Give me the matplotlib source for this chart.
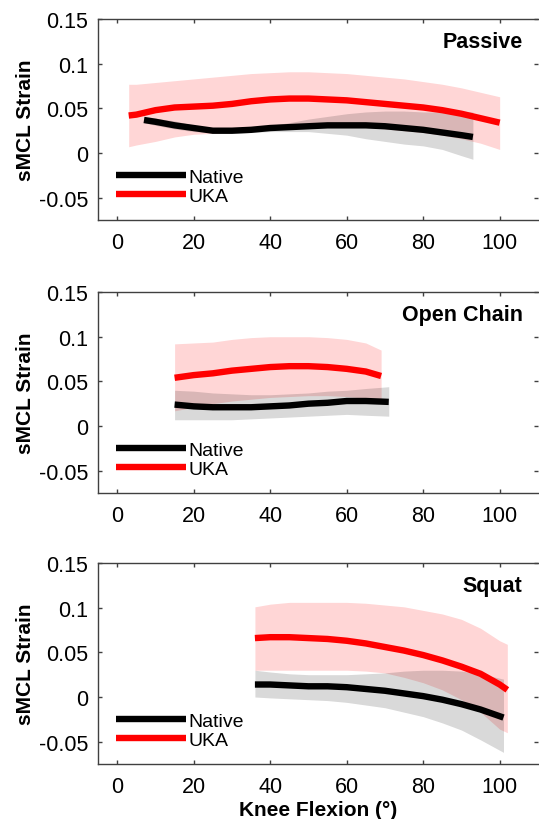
import matplotlib
matplotlib.use("Agg")
import matplotlib.pyplot as plt
import numpy as np

plt.rcParams['font.family'] = ['Liberation Sans', 'DejaVu Sans']
plt.rcParams['axes.unicode_minus'] = False

## DATA

# Passive
p_ux = [3, 5, 10, 15, 20, 25, 30, 35, 40, 45, 50, 55, 60, 65, 70, 75, 80, 85, 90, 95, 100]
p_u = [0.042, 0.043, 0.048, 0.051, 0.052, 0.053, 0.055, 0.058, 0.060, 0.061, 0.061,
       0.060, 0.059, 0.057, 0.055, 0.053, 0.051, 0.048, 0.044, 0.039, 0.034]
p_uhi = [0.077, 0.077, 0.079, 0.081, 0.083, 0.085, 0.087, 0.089, 0.090, 0.091, 0.091,
         0.090, 0.089, 0.087, 0.085, 0.083, 0.080, 0.077, 0.073, 0.068, 0.063]
p_ulo = [0.007, 0.009, 0.013, 0.018, 0.021, 0.022, 0.023, 0.025, 0.027, 0.029, 0.030,
         0.030, 0.030, 0.029, 0.027, 0.025, 0.023, 0.020, 0.016, 0.011, 0.004]
p_nx = [7, 10, 15, 20, 25, 30, 35, 40, 45, 50, 55, 60, 65, 70, 75, 80, 85, 90, 93]
p_n = [0.037, 0.035, 0.031, 0.028, 0.025, 0.025, 0.026, 0.028, 0.029, 0.030,
       0.031, 0.031, 0.031, 0.030, 0.028, 0.026, 0.023, 0.020, 0.018]
p_nhi = [0.040, 0.039, 0.036, 0.031, 0.028, 0.027, 0.028, 0.031, 0.034, 0.038,
         0.041, 0.044, 0.046, 0.047, 0.047, 0.046, 0.046, 0.046, 0.046]
p_nlo = [0.034, 0.031, 0.027, 0.024, 0.023, 0.022, 0.023, 0.024, 0.024, 0.024,
         0.022, 0.020, 0.016, 0.013, 0.010, 0.008, 0.004, -0.003, -0.007]

# Open Chain
o_ux = [15, 20, 25, 30, 35, 40, 45, 50, 55, 60, 65, 69]
o_u = [0.054, 0.057, 0.059, 0.062, 0.064, 0.066, 0.067, 0.067, 0.066, 0.064, 0.061, 0.056]
o_uhi = [0.092, 0.093, 0.094, 0.097, 0.099, 0.100, 0.100, 0.100, 0.099, 0.097, 0.093, 0.085]
o_ulo = [0.017, 0.021, 0.025, 0.028, 0.030, 0.032, 0.033, 0.034, 0.034, 0.033, 0.031, 0.027]
o_nx = [15, 20, 25, 30, 35, 40, 45, 50, 55, 60, 65, 71]
o_n = [0.024, 0.022, 0.021, 0.021, 0.021, 0.022, 0.023, 0.025, 0.026, 0.028, 0.028, 0.027]
o_nhi = [0.040, 0.039, 0.037, 0.036, 0.035, 0.035, 0.036, 0.037, 0.039, 0.040, 0.042, 0.044]
o_nlo = [0.007, 0.007, 0.007, 0.007, 0.008, 0.009, 0.010, 0.011, 0.012, 0.013, 0.012, 0.011]

# Squat
s_ux = [36, 40, 45, 50, 55, 60, 65, 70, 75, 80, 85, 90, 95, 100, 102]
s_u = [0.066, 0.067, 0.067, 0.066, 0.065, 0.063, 0.060, 0.056, 0.052, 0.047,
       0.041, 0.034, 0.026, 0.014, 0.008]
s_uhi = [0.101, 0.104, 0.106, 0.106, 0.106, 0.106, 0.105, 0.103, 0.101, 0.097,
         0.093, 0.087, 0.077, 0.063, 0.059]
s_ulo = [0.030, 0.030, 0.030, 0.030, 0.030, 0.030, 0.029, 0.027, 0.022, 0.016,
         0.008, -0.003, -0.017, -0.036, -0.040]
s_nx = [36, 40, 45, 50, 55, 60, 65, 70, 75, 80, 85, 90, 95, 101]
s_n = [0.014, 0.014, 0.013, 0.012, 0.012, 0.011, 0.009, 0.007, 0.004, 0.001,
       -0.003, -0.008, -0.014, -0.023]
s_nhi = [0.030, 0.028, 0.026, 0.025, 0.025, 0.025, 0.026, 0.027, 0.029, 0.030,
         0.030, 0.029, 0.026, 0.020]
s_nlo = [0.000, -0.001, -0.002, -0.003, -0.004, -0.006, -0.009, -0.012, -0.017,
         -0.022, -0.029, -0.037, -0.048, -0.062]

titles = ['Passive', 'Open Chain', 'Squat']
xticks = [0, 20, 40, 60, 80, 100]
yticks = [-0.05, 0, 0.05, 0.1, 0.15]
ytick_labels = ['-0.05', '0', '0.05', '0.1', '0.15']

panels = [
    (p_ux, p_u, p_uhi, p_ulo, p_nx, p_n, p_nhi, p_nlo),
    (o_ux, o_u, o_uhi, o_ulo, o_nx, o_n, o_nhi, o_nlo),
    (s_ux, s_u, s_uhi, s_ulo, s_nx, s_n, s_nhi, s_nlo),
]

fig = plt.figure(figsize=(5.39, 8.2), dpi=100)
bottoms = [0.7305, 0.3976, 0.0671]
spine_col = '#404040'

for k, (title, data, b) in enumerate(zip(titles, panels, bottoms)):
    ux, u, uhi, ulo, nx, n, nhi, nlo = data
    ax = fig.add_axes([0.182, b, 0.816, 0.245])

    ax.fill_between(ux, ulo, uhi, color='red', alpha=0.16, lw=0)
    ax.fill_between(nx, nlo, nhi, color='black', alpha=0.15, lw=0)
    ax.plot(nx, n, color='black', lw=4.6, solid_capstyle='butt', label='Native')
    ax.plot(ux, u, color='red', lw=4.6, solid_capstyle='butt', label='UKA')

    ax.set_xlim(-5, 110)
    ax.set_ylim(-0.075, 0.15)
    ax.set_xticks(xticks)
    ax.set_yticks(yticks)
    ax.set_yticklabels(ytick_labels)
    ax.tick_params(direction='in', length=3, width=1, color=spine_col,
                   labelsize=15.5, top=True, right=True, pad=7)
    ax.tick_params(axis='x', pad=9)
    for side in ['left', 'bottom', 'top']:
        ax.spines[side].set_color(spine_col)
        ax.spines[side].set_linewidth(1)
    ax.spines['right'].set_visible(False)

    ax.set_ylabel('sMCL Strain', fontsize=15, fontweight='bold', labelpad=3)
    ax.text(106, 0.125, title, ha='right', va='center',
            fontsize=15.5, fontweight='bold')

    ax.legend(loc='center left', bbox_to_anchor=(-0.4, -0.0375),
              bbox_transform=ax.transData, frameon=False, fontsize=14,
              handlelength=3.6, handletextpad=0.15, labelspacing=0.1,
              borderpad=0, borderaxespad=0)

    if k == 2:
        ax.set_xlabel('Knee Flexion (°)', fontsize=15, fontweight='bold', labelpad=1.5)

fig.savefig('out.png', dpi=100)
